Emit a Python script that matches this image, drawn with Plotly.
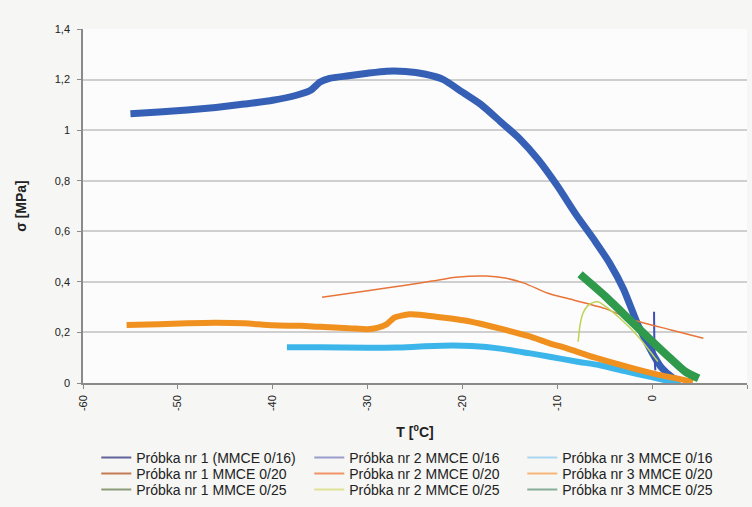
import plotly.graph_objects as go

# Próbka nr 1 (MMCE 0/16)
t_1_16 = [-55, -52, -49, -46, -43, -40, -37.5, -36, -35, -34, -32, -30, -28, -26, -24, -22,
          -20, -18, -16, -14, -12, -10, -8, -6, -4.5, -3, -1.5, 0, 1, 2.2, 3]
s_1_16 = [1.065, 1.072, 1.08, 1.09, 1.103, 1.118, 1.138, 1.158, 1.19, 1.205, 1.215, 1.225,
          1.233, 1.232, 1.222, 1.2, 1.15, 1.1, 1.034, 0.967, 0.883, 0.78, 0.665, 0.56,
          0.475, 0.37, 0.23, 0.12, 0.06, 0.02, 0.005]

# Próbka nr 2 MMCE 0/16
t_2_16 = [0.2, 0.22, 0.26, 0.3, 0.34]
s_2_16 = [0.282, 0.2, 0.12, 0.07, 0.05]

# Próbka nr 3 MMCE 0/16
t_3_16 = [-38.5, -35, -30, -27, -24, -21, -19, -16, -13, -10.8, -8, -5.5, -3, -0.3, 1.5, 3]
s_3_16 = [0.141, 0.141, 0.139, 0.14, 0.145, 0.148, 0.146, 0.136, 0.118, 0.104, 0.085,
          0.07, 0.048, 0.025, 0.01, 0.004]

# Próbka nr 1 MMCE 0/20
t_1_20 = [-55.4, -52, -49, -46, -43, -40, -37, -35, -32, -30, -29, -28, -27.2, -25.6, -24,
          -22.8, -19.6, -16.1, -13, -10.8, -9, -6, -2, 1, 4.3]
s_1_20 = [0.229, 0.232, 0.236, 0.238, 0.236, 0.228, 0.226, 0.222, 0.217, 0.213, 0.218,
          0.232, 0.258, 0.272, 0.268, 0.262, 0.246, 0.216, 0.185, 0.157, 0.137, 0.1,
          0.058, 0.03, 0.005]

# Próbka nr 2 MMCE 0/20
t_2_20 = [-34.8, -30, -26, -23.2, -20.7, -17.5, -15.5, -13.5, -11, -9, -5, -2, 2, 5.4]
s_2_20 = [0.339, 0.365, 0.387, 0.403, 0.418, 0.423, 0.415, 0.395, 0.355, 0.335, 0.295,
          0.249, 0.21, 0.177]

# Próbka nr 1 MMCE 0/25
t_1_25 = [-7.6, -5, -2.5, 0, 2, 3.5, 4.9]
s_1_25 = [0.43, 0.345, 0.255, 0.165, 0.095, 0.045, 0.018]

# Próbka nr 2 MMCE 0/25
t_2_25 = [-7.8, -7.6, -7.3, -6.8, -6.2, -5.7, -5, -3.4, -1.5, 0.1, 0.6]
s_2_25 = [0.163, 0.23, 0.275, 0.305, 0.319, 0.321, 0.305, 0.256, 0.185, 0.11, 0.085]

x_ticks = [-60, -50, -40, -30, -20, -10, 0, 10]
y_ticks = [0, 0.2, 0.4, 0.6, 0.8, 1, 1.2, 1.4]

# (name, x, y, line colour, line width, legend colour, legend row)
series = [
    ("Próbka nr 1 (MMCE 0/16)", t_1_16, s_1_16, "#3560b5", 7, "#62629a", "legend"),
    ("Próbka nr 2 MMCE 0/16", t_2_16, s_2_16, "#3f4fb5", 2, "#9a9ccc", "legend"),
    ("Próbka nr 3 MMCE 0/16", t_3_16, s_3_16, "#3cb6ea", 6, "#a9d6f0", "legend"),
    ("Próbka nr 1 MMCE 0/20", t_1_20, s_1_20, "#f0901f", 6, "#c47a55", "legend2"),
    ("Próbka nr 2 MMCE 0/20", t_2_20, s_2_20, "#e8743a", 1.5, "#f29466", "legend2"),
    ("Próbka nr 3 MMCE 0/20", [], [], "#f4b070", 2, "#f5b67a", "legend2"),
    ("Próbka nr 1 MMCE 0/25", t_1_25, s_1_25, "#2f9a4c", 8, "#8c9c78", "legend3"),
    ("Próbka nr 2 MMCE 0/25", t_2_25, s_2_25, "#bcd455", 1.5, "#dde296", "legend3"),
    ("Próbka nr 3 MMCE 0/25", [], [], "#80a890", 2, "#86ad98", "legend3"),
]

fig = go.Figure()

# curves on the plot (no legend)
for name, xs, ys, col, w, lcol, leg in series:
    if xs:
        fig.add_trace(go.Scatter(x=xs, y=ys, mode="lines", name=name, showlegend=False,
                                 line=dict(color=col, width=w, shape="spline", smoothing=0.6)))

# legend entries with thin lines, like the Excel original
for name, xs, ys, col, w, lcol, leg in series:
    fig.add_trace(go.Scatter(x=[None], y=[None], mode="lines", name=name, legend=leg,
                             line=dict(color=lcol, width=2)))

leg_style = dict(orientation="h", x=0.02, xanchor="left", yanchor="middle",
                 entrywidth=168, entrywidthmode="pixels", bgcolor="rgba(0,0,0,0)",
                 font=dict(size=14, color="#222222"), itemwidth=30)

# rows of the legend sit 75, 91 and 107 px below the plot (354 px high)
fig.update_layout(
    width=752, height=507,
    margin=dict(l=83, r=5, t=29, b=124, autoexpand=False),
    paper_bgcolor="#f6f6f4",
    plot_bgcolor="#fcfcfc",
    separators=",.",
    font=dict(family="Liberation Sans, Arial, sans-serif", size=11, color="#222222"),
    legend=dict(y=-75 / 354, **leg_style),
    legend2=dict(y=-91 / 354, **leg_style),
    legend3=dict(y=-107 / 354, **leg_style),
)

fig.update_xaxes(
    range=[-60, 10], tickvals=x_ticks, ticktext=[str(v) for v in x_ticks],
    tickangle=-90, showgrid=False, zeroline=False, automargin=False,
    showline=True, linecolor="#8a8a8a", linewidth=1.5,
    ticks="outside", ticklen=4, tickcolor="#8a8a8a", ticklabelstandoff=2,
    title=dict(text="<b>T [<sup>0</sup>C]</b>", font=dict(size=14), standoff=17),
)
fig.update_yaxes(
    range=[0, 1.4], tickvals=y_ticks, showgrid=True, gridcolor="#cfcfcf", gridwidth=1.5,
    zeroline=False, showline=True, linecolor="#8a8a8a", linewidth=1.5, automargin=False,
    ticks="outside", ticklen=4, tickcolor="#8a8a8a", ticklabelstandoff=5,
    title=dict(text="<b>σ [MPa]</b>", font=dict(size=14), standoff=25),
)

fig.write_html("out.html", config={"displayModeBar": False},
               post_script="document.body.style.margin='0';")
